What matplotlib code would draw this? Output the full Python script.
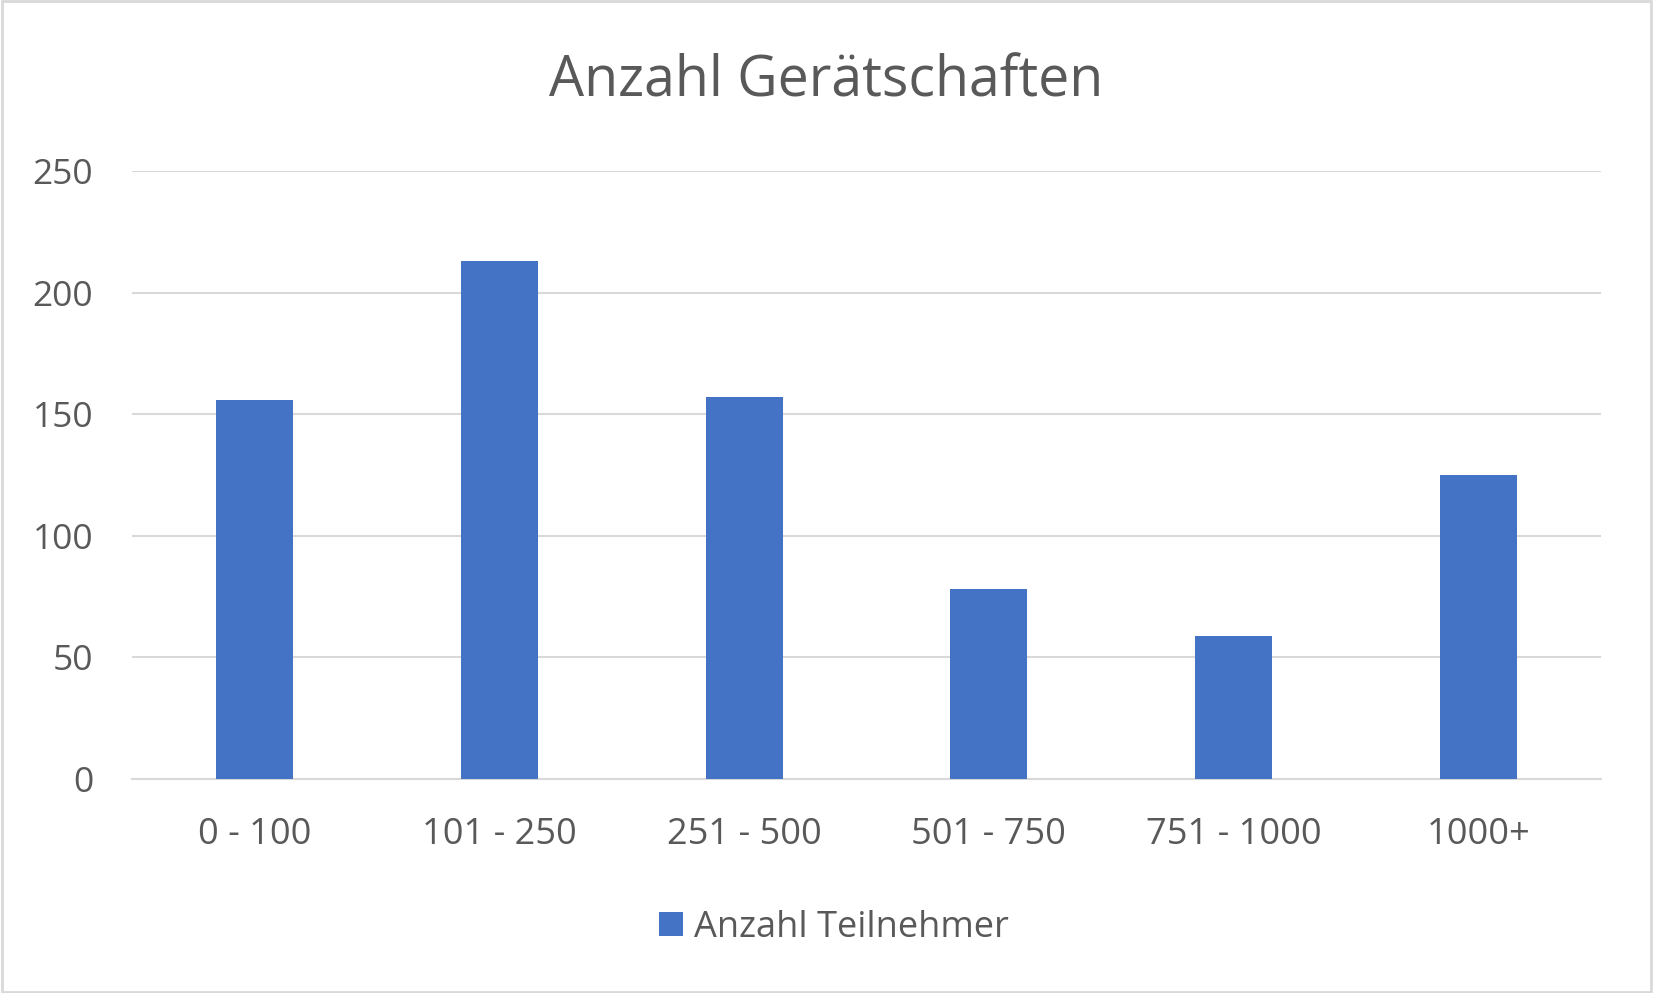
import matplotlib
matplotlib.use("Agg")
import matplotlib.pyplot as plt
from matplotlib.patches import Rectangle

BAR_COLOR = "#4472C4"
TEXT_COLOR = "#595959"
GRID_COLOR = "#D9D9D9"

categories = ["0 - 100", "101 - 250", "251 - 500", "501 - 750", "751 - 1000", "1000+"]
teilnehmer = [156, 213, 157, 78, 59, 125]
y_ticks = [0, 50, 100, 150, 200, 250]

title = "Anzahl Gerätschaften"
series_name = "Anzahl Teilnehmer"

plt.rcParams["font.family"] = ["Open Sans", "DejaVu Sans"]

W, H = 1653, 993
fig = plt.figure(figsize=(W / 100, H / 100), dpi=100)
ax = fig.add_axes([132 / W, 1 - 779 / H, (1601 - 132) / W, (779 - 171) / H])

x = range(len(categories))
ax.bar(x, teilnehmer, width=0.314, color=BAR_COLOR, label=series_name, zorder=3)

ax.set_xlim(-0.5, len(categories) - 0.5)
ax.set_ylim(0, 250)
ax.set_yticks(y_ticks)
ax.set_xticks(list(x))
ax.set_xticklabels(categories)

ax.grid(axis="y", color=GRID_COLOR, linewidth=1.5, zorder=0)
for s in ["top", "right", "left"]:
    ax.spines[s].set_visible(False)
ax.spines["bottom"].set_color(GRID_COLOR)
ax.spines["bottom"].set_linewidth(1.5)

ax.tick_params(axis="y", length=0, pad=28, labelsize=25.5, labelcolor=TEXT_COLOR)
ax.tick_params(axis="x", length=0, pad=27, labelsize=26, labelcolor=TEXT_COLOR)

fig.text(826 / W, 1 - 82 / H, title, ha="center", va="center",
         fontsize=40, color=TEXT_COLOR)

leg = fig.legend(loc="center", bbox_to_anchor=(834 / W, 1 - 928 / H),
                 frameon=False, fontsize=26, handlelength=0.65, handleheight=0.65,
                 handletextpad=0.3)
for t in leg.get_texts():
    t.set_color(TEXT_COLOR)

fig.patches.append(Rectangle((0.001, 0.001), 0.998, 0.998, transform=fig.transFigure,
                             fill=False, edgecolor=GRID_COLOR, linewidth=2))

fig.savefig("out.png", dpi=100, facecolor="white")
